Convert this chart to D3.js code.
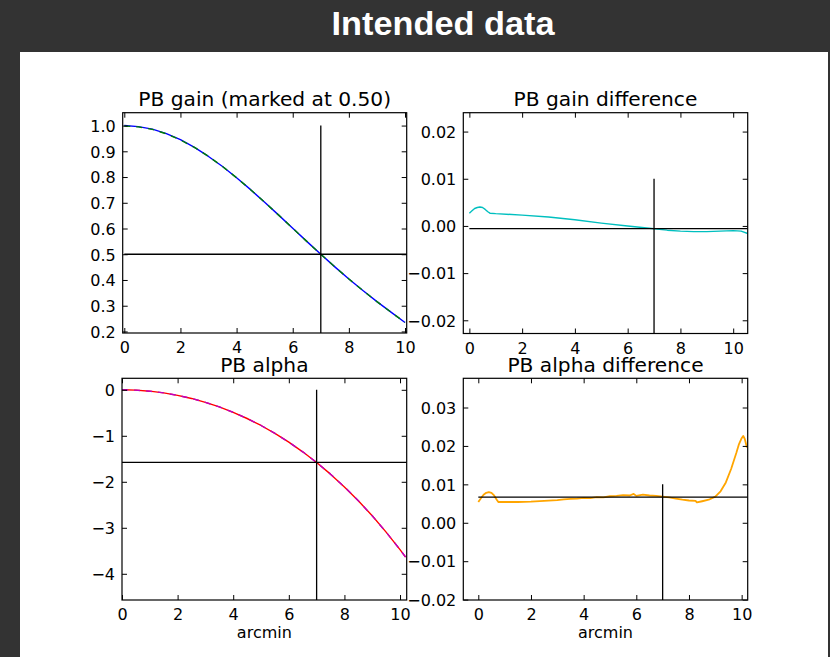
<!DOCTYPE html>
<html><head><meta charset="utf-8">
<script src="https://cdn.jsdelivr.net/npm/d3@7/dist/d3.min.js"></script>
<style>html,body{margin:0;padding:0;background:#333;}svg{display:block;}</style>
</head><body>
<script>
// ---------- data ----------
const figureTitle = "Intended data";
const panelTitles = ["PB gain (marked at 0.50)", "PB gain difference", "PB alpha", "PB alpha difference"];
const xLabel = "arcmin";

const gainX = [0,0.5,1,1.5,2,2.5,3,3.5,4,4.5,5,5.5,6,6.5,7,7.5,8,8.5,9,9.5,10];
const gainIntended = [1.000,0.996,0.986,0.969,0.945,0.915,0.880,0.841,0.797,0.751,0.702,0.652,0.601,0.550,0.500,0.451,0.404,0.359,0.316,0.275,0.235];
const gainActual   = [0.998,0.995,0.985,0.968,0.944,0.915,0.880,0.841,0.797,0.751,0.702,0.652,0.601,0.550,0.500,0.451,0.404,0.359,0.316,0.275,0.235];

const gainDiffX = [0,0.1,0.2,0.3,0.4,0.5,0.6,0.7,0.78,1,2,3,4,5,6,7,7.5,8,8.5,9,9.5,10,10.3,10.55];
const gainDiff  = [0.0027,0.0032,0.0037,0.0039,0.0040,0.0039,0.0035,0.0030,0.0027,0.0026,0.0023,0.0019,0.0013,0.0006,0.0000,-0.0006,-0.0009,-0.0011,-0.0012,-0.0012,-0.0011,-0.0010,-0.0011,-0.0016];

const alphaX = [0,0.5,1,1.5,2,2.5,3,3.5,4,4.5,5,5.5,6,6.5,7,7.5,8,8.5,9,9.5,10,10.2];
const alphaIntended = [0,-0.008,-0.030,-0.067,-0.120,-0.188,-0.272,-0.373,-0.490,-0.624,-0.776,-0.947,-1.138,-1.348,-1.580,-1.834,-2.111,-2.412,-2.740,-3.094,-3.476,-3.637];
const alphaActual   = [0,-0.008,-0.030,-0.067,-0.120,-0.188,-0.272,-0.373,-0.490,-0.624,-0.776,-0.947,-1.138,-1.348,-1.580,-1.834,-2.111,-2.412,-2.740,-3.094,-3.476,-3.637];

const alphaDiffX = [0,0.1,0.2,0.3,0.4,0.5,0.6,0.7,0.76,1,1.5,2,2.5,3,3.25,3.5,3.75,4,4.25,4.5,4.75,5,5.25,5.5,5.75,5.9,6,6.25,6.5,6.75,7,7.25,7.5,7.75,8,8.25,8.3,8.5,8.75,9,9.2,9.4,9.6,9.8,9.9,10,10.06,10.12,10.2];
const alphaDiff  = [0.0054,0.0064,0.0073,0.0078,0.0080,0.0078,0.0071,0.0060,0.0054,0.0054,0.0054,0.0055,0.0057,0.0059,0.0061,0.0062,0.0063,0.0065,0.0064,0.0067,0.0066,0.0069,0.0070,0.0072,0.0071,0.0075,0.0070,0.0073,0.0071,0.0070,0.0068,0.0066,0.0063,0.0060,0.0058,0.0057,0.0053,0.0056,0.0060,0.0068,0.0082,0.0105,0.0140,0.0182,0.0205,0.0220,0.0226,0.0218,0.0196];

const markX = 7;
const markLevel = [0.5, -0.00055, -1.580, 0.00667];
const markTop = [1.0, 0.01, 0, 0.01];

const xTicks = [0,2,4,6,8,10];
const yTicks = [
  [0.2,0.3,0.4,0.5,0.6,0.7,0.8,0.9,1.0],
  [-0.02,-0.01,0.00,0.01,0.02],
  [-4,-3,-2,-1,0],
  [-0.02,-0.01,0.00,0.01,0.02,0.03]
];
const yFormats = [".1f", ".2f", "d", ".2f"];

// ---------- layout ----------
const W = 830, H = 657;
const svg = d3.select("body").append("svg").attr("width", W).attr("height", H);
svg.append("rect").attr("width", W).attr("height", H).attr("fill", "#333333");
svg.append("rect").attr("x", 20).attr("y", 52).attr("width", 808).attr("height", 605).attr("fill", "#ffffff");
svg.append("text").attr("x", 443).attr("y", 35).attr("text-anchor", "middle")
  .attr("font-family", "'Liberation Sans Narrow','Liberation Sans',Arial,sans-serif")
  .attr("font-weight", "bold").attr("font-size", 33).attr("fill", "#ffffff")
  .attr("textLength", 223).attr("lengthAdjust", "spacingAndGlyphs")
  .text(figureTitle);

const panels = [
  {box:[122.7,112.7,406.7,333], xd:[-0.057,10.06], yd:[0.194,1.05],
   series:[{x:gainX,y:gainIntended,c:"#0000ff",dash:null},{x:gainX,y:gainActual,c:"#008000",dash:"6,6"}], xlab:false},
  {box:[463.3,112.7,747.7,333.5], xd:[-0.23,10.55], yd:[-0.0228,0.024],
   series:[{x:gainDiffX,y:gainDiff,c:"#00bfbf",dash:null}], xlab:false},
  {box:[122,378.3,406.7,600], xd:[0,10.24], yd:[-4.57,0.25],
   series:[{x:alphaX,y:alphaIntended,c:"#ff0000",dash:null},{x:alphaX,y:alphaActual,c:"#bf00bf",dash:"6,6"}], xlab:true},
  {box:[463.3,378.3,747.7,600], xd:[-0.57,10.23], yd:[-0.0201,0.0376],
   series:[{x:alphaDiffX,y:alphaDiff,c:"#ffa500",dash:null,w:1.8}], xlab:true}
];

const FONT = "'DejaVu Sans',sans-serif";

panels.forEach((p, i) => {
  const [x0,y0,x1,y1] = p.box;
  const xs = d3.scaleLinear().domain(p.xd).range([x0,x1]);
  const ys = d3.scaleLinear().domain(p.yd).range([y1,y0]);
  const g = svg.append("g");
  const cid = "clip" + i;
  svg.append("clipPath").attr("id", cid).append("rect")
    .attr("x", x0).attr("y", y0).attr("width", x1-x0).attr("height", y1-y0);
  const plot = g.append("g").attr("clip-path", `url(#${cid})`);

  // data lines
  p.series.forEach(s => {
    const line = d3.line().x((d,k)=>xs(s.x[k])).y(d=>ys(d));
    plot.append("path").datum(s.y).attr("d", line).attr("fill","none")
      .attr("stroke", s.c).attr("stroke-width", s.w || 1.4)
      .attr("stroke-dasharray", s.dash).attr("stroke-linejoin","round");
  });
  // marker lines
  plot.append("line").attr("x1", xs(0)).attr("x2", x1+2)
    .attr("y1", ys(markLevel[i])).attr("y2", ys(markLevel[i]))
    .attr("stroke","#000").attr("stroke-width",1.3);
  plot.append("line").attr("x1", xs(markX)).attr("x2", xs(markX))
    .attr("y1", ys(markTop[i])).attr("y2", y1+2)
    .attr("stroke","#000").attr("stroke-width",1.3);

  // axes with inward ticks on all sides
  const fmt = d3.format(yFormats[i]);
  const axB = d3.axisBottom(xs).tickValues(xTicks).tickSizeInner(-5).tickSizeOuter(0).tickPadding(9).tickFormat(d3.format("d"));
  const axT = d3.axisTop(xs).tickValues(xTicks).tickSizeInner(-5).tickSizeOuter(0).tickFormat("");
  const axL = d3.axisLeft(ys).tickValues(yTicks[i]).tickSizeInner(-5).tickSizeOuter(0).tickPadding(7).tickFormat(fmt);
  const axR = d3.axisRight(ys).tickValues(yTicks[i]).tickSizeInner(-5).tickSizeOuter(0).tickFormat("");
  const gb = g.append("g").attr("transform",`translate(0,${y1})`).call(axB);
  const gt = g.append("g").attr("transform",`translate(0,${y0})`).call(axT);
  const gl = g.append("g").attr("transform",`translate(${x0},0)`).call(axL);
  const gr = g.append("g").attr("transform",`translate(${x1},0)`).call(axR);
  [gb,gt,gl,gr].forEach(a => {
    a.select(".domain").remove();
    a.selectAll(".tick line").attr("stroke","#000").attr("stroke-width",1);
    a.selectAll("text").attr("font-family",FONT).attr("font-size",16).attr("fill","#000");
  });
  gb.selectAll(".tick text").attr("dy","0.71em");
  gl.selectAll(".tick text").attr("dy","0.36em");
  // frame
  g.append("rect").attr("x",x0).attr("y",y0).attr("width",x1-x0).attr("height",y1-y0)
    .attr("fill","none").attr("stroke","#000").attr("stroke-width",1.2);
  // title
  g.append("text").attr("x",(x0+x1)/2).attr("y",y0-6.7).attr("text-anchor","middle")
    .attr("font-family",FONT).attr("font-size",20.2).attr("fill","#000").text(panelTitles[i]);
  if (p.xlab) {
    g.append("text").attr("x",(x0+x1)/2).attr("y",638).attr("text-anchor","middle")
      .attr("font-family",FONT).attr("font-size",16).attr("fill","#000").text(xLabel);
  }
});
</script>
</body></html>
